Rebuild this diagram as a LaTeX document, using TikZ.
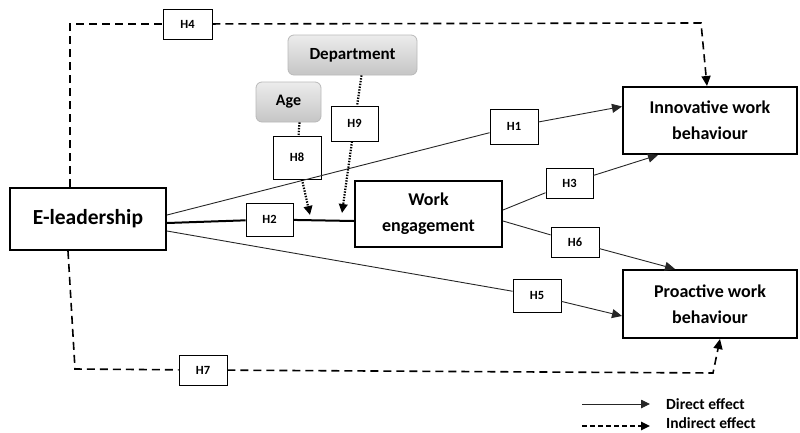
\documentclass[tikz,border=0pt]{standalone}
\usepackage{fontspec}
\setmainfont{Carlito}
\usetikzlibrary{arrows.meta,calc}
\begin{document}
\begin{tikzpicture}[x=1pt,y=-1pt,
 mainbox/.style={draw, line width=2pt, inner sep=0pt, align=center, font=\fontsize{18}{26}\selectfont\bfseries},
 hbox/.style={draw, line width=0.9pt, fill=white, inner sep=0pt, font=\fontsize{12.5}{14}\selectfont\bfseries},
 modbox/.style={draw=gray!55, line width=0.8pt, rounded corners=6pt, top color=gray!15, bottom color=gray!45, inner sep=0pt, font=\fontsize{17}{20}\selectfont\bfseries},
 direct/.style={line width=0.9pt, draw=black!85},
 tip/.style={-{Triangle[length=10pt,width=9pt]}},
 smalltip/.style={-{Triangle[length=9pt,width=8.5pt]}},
 ind/.style={line width=1.6pt, dash pattern=on 8pt off 5pt},
 dot/.style={line width=2.2pt, dash pattern=on 1.4pt off 1.4pt},
]
\useasboundingbox (0,0) rectangle (800,432);

% main boxes
\node[mainbox, minimum width=156pt, minimum height=62pt, font=\fontsize{21.5}{26}\selectfont\bfseries] (el) at (88,219) {E-leadership};
\node[mainbox, minimum width=147pt, minimum height=66pt] (we) at (428.5,214) {Work\\engagement};
\node[mainbox, minimum width=174pt, minimum height=67pt] (inn) at (710,120.5) {Innovative work\\behaviour};
\node[mainbox, minimum width=174pt, minimum height=68pt] (pro) at (710,304) {Proactive work\\behaviour};

% moderators
\node[modbox, minimum width=129pt, minimum height=40pt] (dep) at (352.5,55) {Department};
\node[modbox, minimum width=65pt, minimum height=40pt, font=\fontsize{16}{20}\selectfont\bfseries] (age) at (288.5,102) {Age};

% hypothesis labels
\node[hbox, minimum width=49pt, minimum height=30pt] (h4) at (187.5,24) {H4};
\node[hbox, minimum width=47pt, minimum height=35pt] (h9) at (354.5,123.5) {H9};
\node[hbox, minimum width=48pt, minimum height=43pt] (h8) at (297,157.5) {H8};
\node[hbox, minimum width=47pt, minimum height=33pt] (h2) at (269.5,219.5) {H2};
\node[hbox, minimum width=48pt, minimum height=35pt] (h1) at (514,126.5) {H1};
\node[hbox, minimum width=47pt, minimum height=30pt] (h3) at (569.5,183) {H3};
\node[hbox, minimum width=48pt, minimum height=30pt] (h6) at (575,242) {H6};
\node[hbox, minimum width=48pt, minimum height=33pt] (h5) at (537,295.5) {H5};
\node[hbox, minimum width=48pt, minimum height=30pt] (h7) at (203,370) {H7};

% helper coordinates
\coordinate (c4) at (701,23);
\coordinate (c7a) at (75,369);
\coordinate (c7b) at (713,373);
\coordinate (t8) at (310,215);
\coordinate (t9) at (342,213);

% direct effects
\draw[direct] ($(el.east)+(0,-4)$) -- (h1);
\draw[direct, tip] (h1) -- ($(inn.west)+(0,-14)$);
\draw[line width=2pt] ($(el.east)+(0,4)$) -- (h2);
\draw[line width=2pt] (h2) -- ($(we.west)+(0,7)$);
\draw[direct] ($(el.east)+(0,12)$) -- (h5);
\draw[direct, tip] (h5) -- ($(pro.west)+(0,12)$);
\draw[direct] ($(we.east)+(0,-4)$) -- (h3);
\draw[direct, tip] (h3) -- ($(inn.south west)+(36,0)$);
\draw[direct] ($(we.east)+(0,7)$) -- (h6);
\draw[direct, tip] (h6) -- ($(pro.north west)+(53,0)$);

% moderation (dotted)
\draw[dot] ($(age.south)+(11,0)$) -- (h8);
\draw[dot, smalltip] (h8) -- (t8);
\draw[dot] ($(dep.south)+(9,0)$) -- (h9);
\draw[dot, smalltip] (h9) -- (t9);

% indirect effects
\draw[ind] ($(el.north)+(-18,0)$) |- (h4);
\draw[ind, tip] (h4) -- (c4) -- ($(inn.north)+(-3,0)$);
\draw[ind] ($(el.south)+(-20,0)$) -- (c7a) -- (h7);
\draw[ind, tip] (h7) -- (c7b) -- ($(pro.south)+(10,0)$);

% legend
\coordinate (l1a) at (582,404);
\coordinate (l1b) at (650,404);
\coordinate (l2a) at (582,426);
\coordinate (l2b) at (650,426);
\draw[direct, smalltip] (l1a) -- (l1b);
\draw[line width=1.6pt, dash pattern=on 5pt off 3pt, smalltip] (l2a) -- (l2b);
\node[anchor=west, inner sep=0pt, font=\fontsize{15.5}{18}\selectfont\bfseries] (lg1) at (666,404) {Direct effect};
\node[anchor=west, inner sep=0pt, font=\fontsize{15.5}{18}\selectfont\bfseries] (lg2) at (666,423) {Indirect effect};
\end{tikzpicture}
\end{document}
